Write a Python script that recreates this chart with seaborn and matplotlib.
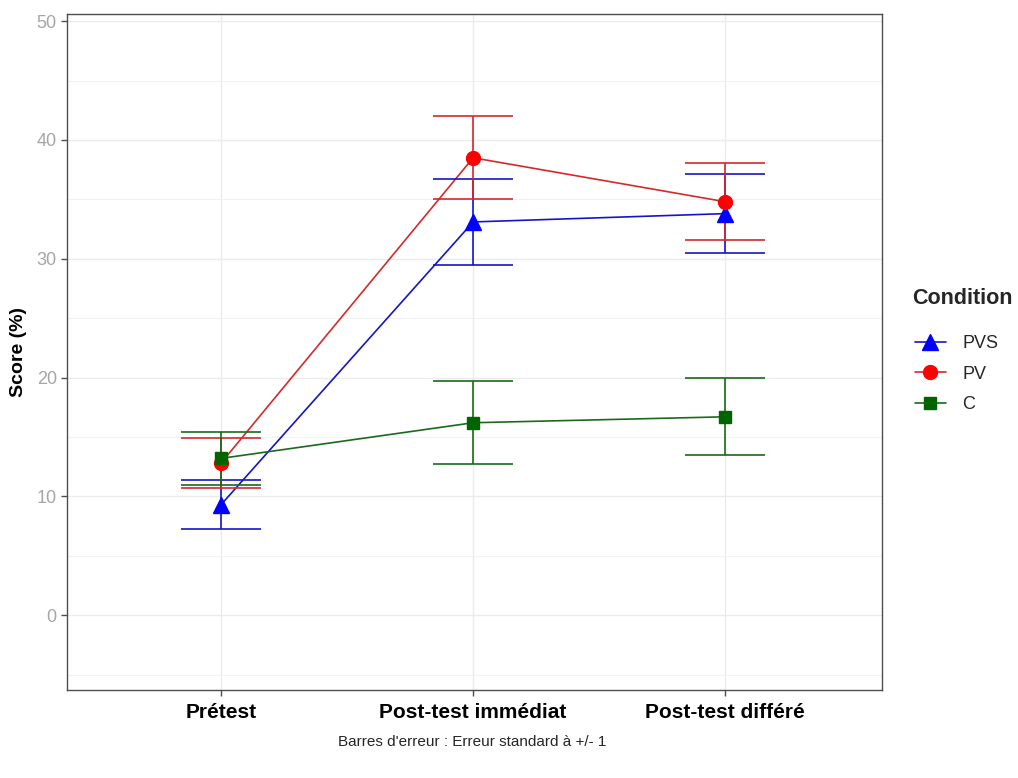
import numpy as np
import pandas as pd
import matplotlib
matplotlib.use("Agg")
import matplotlib.pyplot as plt
from matplotlib.lines import Line2D
import seaborn as sns

# Data
times = ["Prétest", "Post-test immédiat", "Post-test différé"]
conditions = ["PVS", "PV", "C"]
mean_pvs = [9.3, 33.1, 33.8]
mean_pv = [12.8, 38.5, 34.8]
mean_c = [13.2, 16.2, 16.7]
se_pvs = [2.05, 3.6, 3.3]
se_pv = [2.1, 3.5, 3.25]
se_c = [2.2, 3.5, 3.25]

means = {"PVS": mean_pvs, "PV": mean_pv, "C": mean_c}
ses = {"PVS": se_pvs, "PV": se_pv, "C": se_c}
marker_colors = {"PVS": "#0000FF", "PV": "#FF0000", "C": "#006400"}
line_colors = {"PVS": "#1515C8", "PV": "#D42A2A", "C": "#1A6A1A"}
markers = {"PVS": "^", "PV": "o", "C": "s"}
msize = {"PVS": 11, "PV": 10, "C": 9}

rows = []
for cond in conditions:
    for i, t in enumerate(times):
        rows.append({"Temps": t, "pos": i, "Score": means[cond][i],
                     "se": ses[cond][i], "Condition": cond})
df = pd.DataFrame(rows)

sns.set_style("whitegrid")
plt.rcParams["font.family"] = ["Liberation Sans", "DejaVu Sans"]

fig = plt.figure(figsize=(10.18, 7.78), dpi=100)
ax = fig.add_axes([0.066, 0.113, 0.8, 0.869])

# Lines
sns.lineplot(data=df, x="pos", y="Score", hue="Condition",
             palette=line_colors, hue_order=conditions, linewidth=1.2,
             legend=False, ax=ax, zorder=2)

# Error bars + markers
for cond in conditions:
    sub = df[df["Condition"] == cond]
    ax.errorbar(sub["pos"], sub["Score"], yerr=sub["se"], fmt="none",
                ecolor=line_colors[cond], elinewidth=1.2, capsize=29,
                capthick=1.2, zorder=3)
    ax.plot(sub["pos"], sub["Score"], linestyle="none",
            marker=markers[cond], markersize=msize[cond],
            color=marker_colors[cond], markeredgecolor=marker_colors[cond],
            zorder=4)

ax.set_xlim(-0.61, 2.62)
ax.set_ylim(-6.3, 50.6)
ax.set_xticks(range(len(times)))
ax.set_xticklabels(times, fontsize=15, fontweight="bold", color="black")
ax.set_yticks([0, 10, 20, 30, 40, 50])
ax.set_yticks([-5, 5, 15, 25, 35, 45], minor=True)
ax.tick_params(axis="y", labelsize=13, colors="#4D4D4D", labelcolor="#A6A6A6",
               length=4, width=1, left=True)
ax.tick_params(axis="x", length=4, width=1, bottom=True, colors="#4D4D4D",
               labelcolor="black", pad=5)
ax.grid(which="major", color="#EBEBEB", linewidth=1.0)
ax.grid(which="minor", axis="y", color="#F2F2F2", linewidth=0.8)
ax.set_axisbelow(True)
for s in ax.spines.values():
    s.set_color("#4D4D4D")
    s.set_linewidth(1.0)

ax.set_xlabel("")
ax.set_ylabel("Score (%)", fontsize=14, fontweight="bold", labelpad=7,
              color="black")

# Legend (title placed separately to match spacing)
fig.text(0.896, 1 - 298 / 778, "Condition", ha="left", va="center",
         fontsize=15.5, fontweight="bold")
handles = [Line2D([0], [0], color=line_colors[c], linewidth=1.2,
                  marker=markers[c], markersize=msize[c],
                  markerfacecolor=marker_colors[c],
                  markeredgecolor=marker_colors[c]) for c in conditions]
leg = fig.legend(handles, conditions,
                 loc="upper left", bbox_to_anchor=(0.883, 0.59),
                 frameon=False, fontsize=13,
                 handlelength=1.7, handletextpad=0.9, labelspacing=0.75)

fig.text(0.464, 0.046, "Barres d'erreur : Erreur standard à +/- 1",
         ha="center", va="center", fontsize=11)

fig.savefig("out.png", dpi=100)
